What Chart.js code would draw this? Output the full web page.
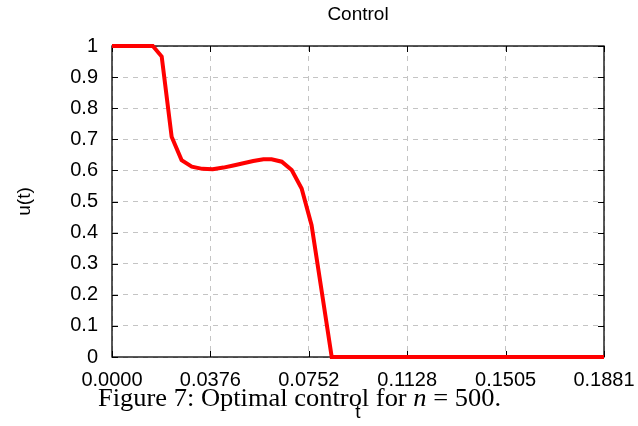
<!DOCTYPE html>
<html>
<head>
<meta charset="utf-8">
<script src="https://cdn.jsdelivr.net/npm/chart.js@4/dist/chart.umd.min.js"></script>
<style>
  html, body { margin: 0; padding: 0; background: #fff; }
  #wrap { width: 638px; height: 426px; position: relative; }
</style>
</head>
<body>
<div id="wrap"><canvas id="mycanvas" width="638" height="426"></canvas></div>
<script>
// data
var tVals = [0, 0.0156, 0.0190, 0.0228, 0.0266, 0.0305, 0.0345, 0.0385, 0.0426, 0.0464, 0.0502,
             0.0540, 0.0579, 0.0610, 0.0649, 0.0687, 0.0725, 0.0763, 0.0802, 0.0840, 0.1881];
var uVals = [1, 1, 0.966, 0.708, 0.633, 0.612, 0.605, 0.604, 0.609, 0.616, 0.623,
             0.630, 0.636, 0.636, 0.628, 0.601, 0.542, 0.424, 0.21, 0, 0];
var xTicks = [0, 0.03762, 0.07524, 0.11286, 0.15048, 0.1881];
var xTickLabels = ['0.0000', '0.0376', '0.0752', '0.1128', '0.1505', '0.1881'];
var yTickLabels = ['0', '0.1', '0.2', '0.3', '0.4', '0.5', '0.6', '0.7', '0.8', '0.9', '1'];
var titleText = 'Control';

var pts = [];
for (var i = 0; i < tVals.length; i++) pts.push({x: tVals[i], y: uVals[i]});

var FONT = 'Liberation Sans, Arial, sans-serif';
var SERIF = 'Liberation Serif, Times New Roman, serif';

// box, inner tick marks, title and caption
var decor = {
  id: 'decor',
  beforeDatasetsDraw: function(chart) {
    var a = chart.chartArea, ctx = chart.ctx;
    var xs = chart.scales.x, ys = chart.scales.y;
    ctx.save();
    ctx.strokeStyle = '#000';
    ctx.lineWidth = 1.3;
    ctx.strokeRect(a.left, a.top, a.right - a.left, a.bottom - a.top);
    ctx.lineWidth = 1;
    ctx.beginPath();
    xs.ticks.forEach(function(t) {
      var px = Math.round(xs.getPixelForValue(t.value)) + 0.5;
      ctx.moveTo(px, a.bottom); ctx.lineTo(px, a.bottom - 6);
      ctx.moveTo(px, a.top); ctx.lineTo(px, a.top + 6);
    });
    ys.ticks.forEach(function(t) {
      var py = Math.round(ys.getPixelForValue(t.value)) + 0.5;
      ctx.moveTo(a.left, py); ctx.lineTo(a.left + 6, py);
      ctx.moveTo(a.right, py); ctx.lineTo(a.right - 6, py);
    });
    ctx.stroke();
    ctx.restore();
  },
  afterDraw: function(chart) {
    var ctx = chart.ctx;
    ctx.save();
    ctx.fillStyle = '#000';
    ctx.font = '19px ' + FONT;
    ctx.textAlign = 'center';
    ctx.textBaseline = 'middle';
    ctx.fillText(titleText, 358, 15);

    // caption (serif, italic n)
    var parts = [['Figure 7: Optimal control for ', ''], ['n', 'italic '], [' = 500.', '']];
    var size = 25, w = 0;
    parts.forEach(function(p) {
      ctx.font = p[1] + size + 'px ' + SERIF;
      w += ctx.measureText(p[0]).width;
    });
    var target = 403, left = 98, base = 406;
    ctx.translate(left, base);
    ctx.scale(target / w, 1);
    ctx.textAlign = 'left';
    ctx.textBaseline = 'alphabetic';
    var cx = 0;
    parts.forEach(function(p) {
      ctx.font = p[1] + size + 'px ' + SERIF;
      ctx.fillText(p[0], cx, 0);
      cx += ctx.measureText(p[0]).width;
    });
    ctx.restore();
  }
};

var noBorder = { display: true, color: 'rgba(0,0,0,0)', width: 1, dash: [5, 5] };

var ctx = document.getElementById('mycanvas');
var chart = new Chart(ctx, {
  type: 'line',
  data: {
    datasets: [{
      data: pts,
      borderColor: '#ff0000',
      backgroundColor: '#ff0000',
      borderWidth: 4,
      pointRadius: 0,
      tension: 0,
      fill: false,
      clip: false
    }]
  },
  options: {
    responsive: false,
    animation: false,
    layout: { padding: { top: 46, right: 34, left: 0, bottom: 0 } },
    plugins: { legend: { display: false }, tooltip: { enabled: false }, title: { display: false } },
    scales: {
      x: {
        type: 'linear',
        min: 0, max: 0.1881,
        afterBuildTicks: function(scale) {
          scale.ticks = xTicks.map(function(v) { return {value: v}; });
        },
        afterFit: function(scale) {
          scale.height = 69;
          scale.paddingLeft = 0;
          scale.paddingRight = 0;
        },
        ticks: {
          autoSkip: false, maxRotation: 0, padding: 11,
          color: '#000', font: { family: FONT, size: 20 },
          callback: function(v, i) { return xTickLabels[i]; }
        },
        grid: { color: '#c4c4c4', lineWidth: 1, drawTicks: false, tickLength: 0 },
        border: noBorder,
        title: { display: true, text: 't', color: '#000', font: { family: FONT, size: 19 }, padding: { top: 0, bottom: 2 } }
      },
      y: {
        min: 0, max: 1,
        afterBuildTicks: function(scale) {
          scale.ticks = yTickLabels.map(function(l, i) { return {value: i / 10}; });
        },
        afterFit: function(scale) {
          scale.width = 112;
          scale.paddingTop = 0;
          scale.paddingBottom = 0;
        },
        ticks: {
          padding: 14, color: '#000', font: { family: FONT, size: 20 },
          callback: function(v, i) { return yTickLabels[i]; }
        },
        grid: { color: '#c4c4c4', lineWidth: 1, drawTicks: false, tickLength: 0 },
        border: noBorder,
        title: { display: true, text: 'u(t)', color: '#000', font: { family: FONT, size: 19 }, padding: { top: 13, bottom: 0 } }
      }
    }
  },
  plugins: [decor]
});
</script>
</body>
</html>
